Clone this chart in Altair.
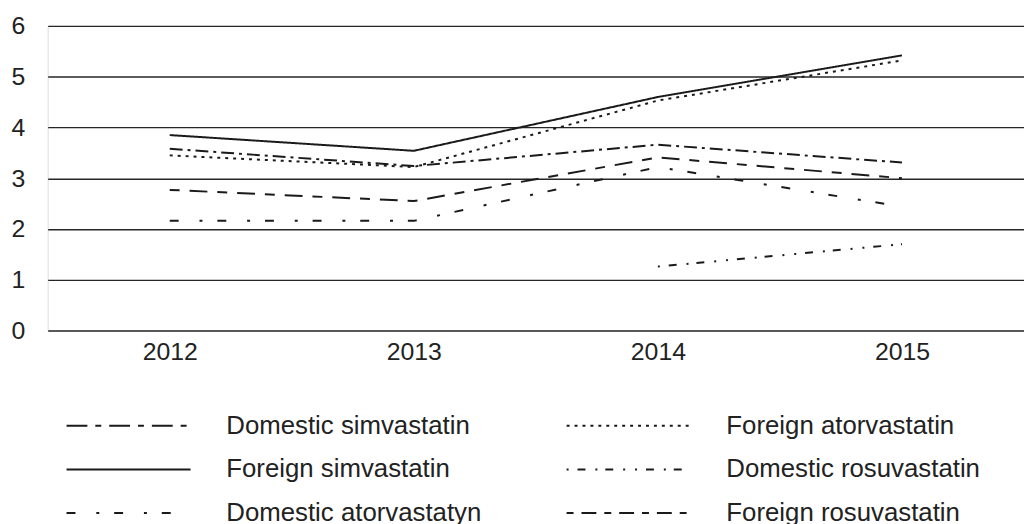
import altair as alt
import pandas as pd

years = ["2012", "2013", "2014", "2015"]

# legend order (row-major in a 2-column legend)
series_names = [
    "Domestic simvastatin",
    "Foreign atorvastatin",
    "Foreign simvastatin",
    "Domestic rosuvastatin",
    "Domestic atorvastatyn",
    "Foreign rosuvastatin",
]

domestic_simvastatin = [3.58, 3.24, 3.66, 3.31]
foreign_atorvastatin = [3.45, 3.22, 4.53, 5.32]
foreign_simvastatin = [3.85, 3.54, 4.60, 5.42]
domestic_rosuvastatin = [None, None, 1.26, 1.70]
domestic_atorvastatyn = [2.16, 2.16, 3.22, 2.44]
foreign_rosuvastatin = [2.77, 2.55, 3.41, 3.00]

series_values = [
    domestic_simvastatin,
    foreign_atorvastatin,
    foreign_simvastatin,
    domestic_rosuvastatin,
    domestic_atorvastatyn,
    foreign_rosuvastatin,
]

# dash patterns for the plotted lines and for the legend symbols
plot_dash = [
    [13, 5, 3, 5],
    [3, 5],
    [1, 0],
    [2, 9, 8, 10, 2, 8, 8, 10, 2, 10],
    [9, 21, 3, 15],
    [10, 10, 18, 10],
]
legend_dash = [
    [21, 8, 6, 8],
    [3, 5],
    [1, 0],
    [2, 9, 8, 10, 2, 8, 8, 10, 2, 10],
    [9, 21, 3, 15],
    [7, 8, 15, 8],
]

rows = []
for name, vals in zip(series_names, series_values):
    for yr, v in zip(years, vals):
        if v is not None:
            rows.append({"series": name, "year": yr, "value": v})
df = pd.DataFrame(rows)
legend_df = df.groupby("series", as_index=False).head(1)

FONT = "Liberation Sans"
INK = "#1a1a1a"

x_enc = alt.X(
    "year:O",
    sort=years,
    scale=alt.Scale(type="point", padding=0.5),
    axis=alt.Axis(
        title=None, labelAngle=0, domain=False, ticks=False, tickSize=0,
        labelPadding=9, labelFontSize=25, labelFont=FONT, labelColor="#222",
        grid=False,
    ),
)
y_enc = alt.Y(
    "value:Q",
    scale=alt.Scale(domain=[0, 6], nice=False, zero=True),
    axis=alt.Axis(
        title=None, values=[0, 1, 2, 3, 4, 5, 6], grid=True, domain=False,
        ticks=False, tickSize=0, labelPadding=23, labelFontSize=25,
        labelFont=FONT, labelColor="#222", gridColor="#262626", gridWidth=1.4,
    ),
)

lines = alt.Chart(df).mark_line(color=INK, strokeWidth=2).encode(
    x=x_enc,
    y=y_enc,
    strokeDash=alt.StrokeDash(
        "series:N",
        scale=alt.Scale(domain=series_names, range=plot_dash),
        legend=None,
    ),
)

legend_layer = alt.Chart(legend_df).mark_line(color=INK, strokeWidth=2).encode(
    x=x_enc,
    y=y_enc,
    strokeDash=alt.StrokeDash(
        "series:N",
        scale=alt.Scale(domain=series_names, range=legend_dash),
        legend=alt.Legend(
            title=None, orient="none", legendX=18, legendY=381,
            direction="horizontal", columns=2, symbolType="stroke",
            symbolSize=125 * 125, symbolStrokeWidth=2, symbolStrokeColor=INK,
            clipHeight=44, rowPadding=0, columnPadding=84, labelOffset=35,
            labelFontSize=26, labelFont=FONT, labelColor="#222",
            labelLimit=500, padding=0, symbolOffset=0,
        ),
    ),
)

chart = (
    alt.layer(lines, legend_layer)
    .resolve_scale(strokeDash="independent")
    .properties(
        width=984,
        height=307,
        autosize=alt.AutoSizeParams(type="none"),
        padding={"left": 40, "top": 16, "right": 0, "bottom": 200},
    )
    .configure_view(stroke="transparent")
    .configure(background="white")
)

chart.save("out.html", embed_options={"renderer": "svg", "actions": False})
